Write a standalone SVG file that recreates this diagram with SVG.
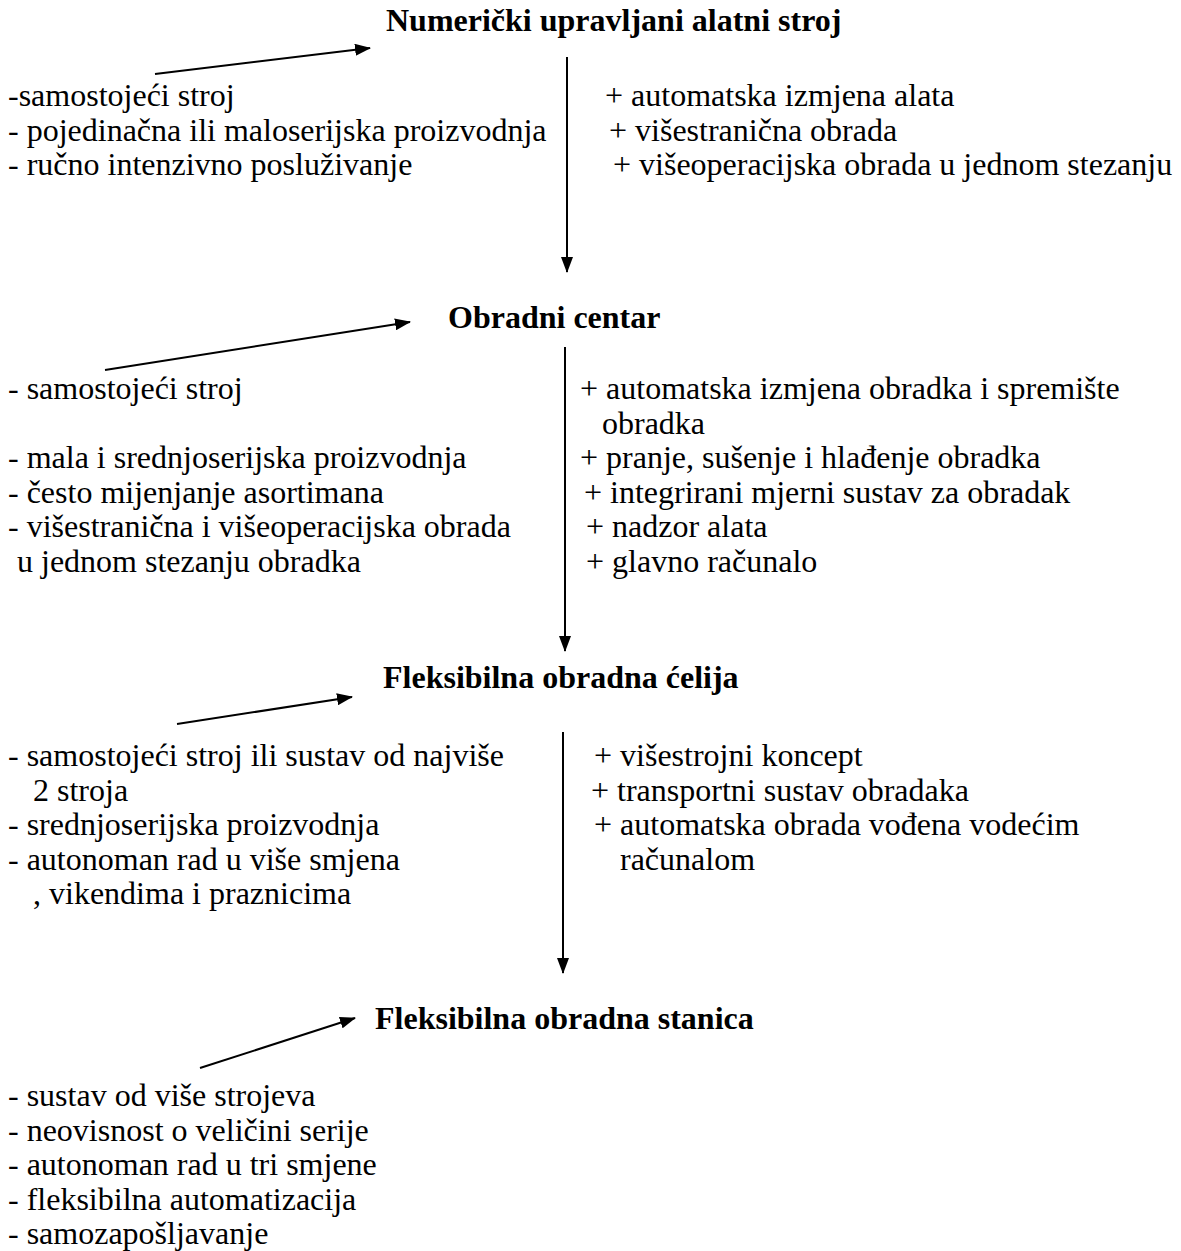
<svg xmlns="http://www.w3.org/2000/svg" width="1181" height="1251" viewBox="0 0 1181 1251">
<defs>
<style>
text{font-family:"Liberation Serif","Times New Roman",serif;font-size:32px;fill:#000}
.t{font-weight:bold;font-size:32px}
.c{stroke:#000;stroke-width:2;fill:none}
</style>
<marker id="ah" viewBox="0 0 16 12" refX="15" refY="6" markerWidth="16" markerHeight="12" markerUnits="userSpaceOnUse" orient="auto">
<path d="M0,0 L16,6 L0,12 z" fill="#000"/>
</marker>
</defs>
<rect width="1181" height="1251" fill="#fff"/>
<g id="connectors">
<line class="c" x1="155" y1="74" x2="370" y2="48" marker-end="url(#ah)"/>
<line class="c" x1="567" y1="57" x2="567" y2="272" marker-end="url(#ah)"/>
<line class="c" x1="105" y1="370" x2="410" y2="322" marker-end="url(#ah)"/>
<line class="c" x1="565" y1="347" x2="565" y2="651" marker-end="url(#ah)"/>
<line class="c" x1="177" y1="724" x2="352" y2="697" marker-end="url(#ah)"/>
<line class="c" x1="563" y1="732" x2="563" y2="973" marker-end="url(#ah)"/>
<line class="c" x1="200" y1="1068" x2="355" y2="1018" marker-end="url(#ah)"/>
</g>
<g id="node1">
<text class="t" x="386" y="31">Numerički upravljani alatni stroj</text>
<text x="8" y="106">-samostojeći stroj</text>
<text x="8" y="140.5">- pojedinačna ili maloserijska proizvodnja</text>
<text x="8" y="175">- ručno intenzivno posluživanje</text>
<text x="605" y="106">+ automatska izmjena alata</text>
<text x="609" y="140.5">+ višestranična obrada</text>
<text x="613" y="175">+ višeoperacijska obrada u jednom stezanju</text>
</g>
<g id="node2">
<text class="t" x="448" y="328">Obradni centar</text>
<text x="8" y="399">- samostojeći stroj</text>
<text x="8" y="468">- mala i srednjoserijska proizvodnja</text>
<text x="8" y="502.5">- često mijenjanje asortimana</text>
<text x="8" y="537">- višestranična i višeoperacijska obrada</text>
<text x="17" y="571.5">u jednom stezanju obradka</text>
<text x="580" y="399">+ automatska izmjena obradka i spremište</text>
<text x="602" y="433.5">obradka</text>
<text x="580" y="468">+ pranje, sušenje i hlađenje obradka</text>
<text x="584" y="502.5">+ integrirani mjerni sustav za obradak</text>
<text x="586" y="537">+ nadzor alata</text>
<text x="586" y="571.5">+ glavno računalo</text>
</g>
<g id="node3">
<text class="t" x="383" y="688">Fleksibilna obradna ćelija</text>
<text x="8" y="766">- samostojeći stroj ili sustav od najviše</text>
<text x="33" y="800.5">2 stroja</text>
<text x="8" y="835">- srednjoserijska proizvodnja</text>
<text x="8" y="869.5">- autonoman rad u više smjena</text>
<text x="33" y="904">, vikendima i praznicima</text>
<text x="594" y="766">+ višestrojni koncept</text>
<text x="591" y="800.5">+ transportni sustav obradaka</text>
<text x="594" y="835">+ automatska obrada vođena vodećim</text>
<text x="620" y="869.5">računalom</text>
</g>
<g id="node4">
<text class="t" x="375" y="1029">Fleksibilna obradna stanica</text>
<text x="8" y="1106">- sustav od više strojeva</text>
<text x="8" y="1140.5">- neovisnost o veličini serije</text>
<text x="8" y="1175">- autonoman rad u tri smjene</text>
<text x="8" y="1209.5">- fleksibilna automatizacija</text>
<text x="8" y="1244">- samozapošljavanje</text>
</g>
</svg>
